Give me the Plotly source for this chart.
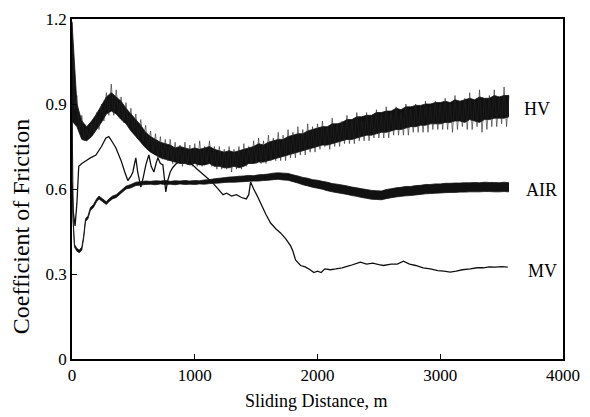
import plotly.graph_objects as go

# ---------------- data ----------------
# HV: solid core of the noisy trace (upper / lower edge) ...
hv_dist = [0, 40, 80, 120, 160, 200, 240, 280, 320, 360,
           400, 440, 480, 520, 560, 600, 640, 680, 720, 760,
           800, 840, 880, 920, 960, 1000, 1040, 1080, 1120, 1160,
           1200, 1240, 1280, 1320, 1360, 1400, 1440, 1480, 1520, 1560,
           1600, 1640, 1680, 1720, 1760, 1800, 1840, 1880, 1920, 1960,
           2000, 2040, 2080, 2120, 2160, 2200, 2240, 2280, 2320, 2360,
           2400, 2440, 2480, 2520, 2560, 2600, 2640, 2680, 2720, 2760,
           2800, 2840, 2880, 2920, 2960, 3000, 3040, 3080, 3120, 3160,
           3200, 3240, 3280, 3320, 3360, 3400, 3440, 3480, 3520, 3560]
hv_upper = [1.19, 0.90, 0.84, 0.82, 0.84, 0.865, 0.895, 0.925, 0.94, 0.925,
            0.91, 0.885, 0.865, 0.845, 0.825, 0.80, 0.785, 0.775, 0.765, 0.76,
            0.755, 0.745, 0.75, 0.745, 0.74, 0.745, 0.74, 0.745, 0.75, 0.74,
            0.735, 0.73, 0.735, 0.73, 0.735, 0.74, 0.745, 0.75, 0.76, 0.755,
            0.765, 0.77, 0.775, 0.775, 0.785, 0.79, 0.795, 0.795, 0.805, 0.81,
            0.815, 0.82, 0.82, 0.83, 0.83, 0.835, 0.845, 0.845, 0.855, 0.855,
            0.86, 0.86, 0.87, 0.87, 0.875, 0.875, 0.885, 0.88, 0.89, 0.89,
            0.895, 0.895, 0.90, 0.90, 0.905, 0.905, 0.91, 0.905, 0.915, 0.91,
            0.915, 0.92, 0.915, 0.925, 0.92, 0.92, 0.93, 0.925, 0.93, 0.93]
hv_lower = [0.84, 0.82, 0.775, 0.77, 0.785, 0.81, 0.835, 0.865, 0.875, 0.865,
            0.845, 0.83, 0.805, 0.785, 0.765, 0.745, 0.73, 0.72, 0.71, 0.705,
            0.70, 0.695, 0.69, 0.69, 0.685, 0.69, 0.685, 0.685, 0.69, 0.68,
            0.68, 0.675, 0.675, 0.68, 0.675, 0.68, 0.69, 0.69, 0.695, 0.695,
            0.70, 0.705, 0.71, 0.715, 0.72, 0.725, 0.73, 0.735, 0.74, 0.745,
            0.75, 0.755, 0.755, 0.76, 0.765, 0.77, 0.775, 0.775, 0.78, 0.785,
            0.79, 0.79, 0.795, 0.80, 0.80, 0.805, 0.81, 0.81, 0.815, 0.82,
            0.82, 0.825, 0.825, 0.83, 0.83, 0.83, 0.835, 0.835, 0.84, 0.84,
            0.835, 0.845, 0.84, 0.835, 0.845, 0.845, 0.85, 0.85, 0.85, 0.855]
# ... and its fine scatter (readings every 20 m)
hv_fine_dist = [0, 20, 40, 60, 80, 100, 120, 140, 160, 180,
                200, 220, 240, 260, 280, 300, 320, 340, 360, 380,
                400, 420, 440, 460, 480, 500, 520, 540, 560, 580,
                600, 620, 640, 660, 680, 700, 720, 740, 760, 780,
                800, 820, 840, 860, 880, 900, 920, 940, 960, 980,
                1000, 1020, 1040, 1060, 1080, 1100, 1120, 1140, 1160, 1180,
                1200, 1220, 1240, 1260, 1280, 1300, 1320, 1340, 1360, 1380,
                1400, 1420, 1440, 1460, 1480, 1500, 1520, 1540, 1560, 1580,
                1600, 1620, 1640, 1660, 1680, 1700, 1720, 1740, 1760, 1780,
                1800, 1820, 1840, 1860, 1880, 1900, 1920, 1940, 1960, 1980,
                2000, 2020, 2040, 2060, 2080, 2100, 2120, 2140, 2160, 2180,
                2200, 2220, 2240, 2260, 2280, 2300, 2320, 2340, 2360, 2380,
                2400, 2420, 2440, 2460, 2480, 2500, 2520, 2540, 2560, 2580,
                2600, 2620, 2640, 2660, 2680, 2700, 2720, 2740, 2760, 2780,
                2800, 2820, 2840, 2860, 2880, 2900, 2920, 2940, 2960, 2980,
                3000, 3020, 3040, 3060, 3080, 3100, 3120, 3140, 3160, 3180,
                3200, 3220, 3240, 3260, 3280, 3300, 3320, 3340, 3360, 3380,
                3400, 3420, 3440, 3460, 3480, 3500, 3520, 3540, 3560]
hv_fine = [1.19, 0.88, 0.93, 0.80, 0.86, 0.77, 0.81, 0.78, 0.83, 0.80,
           0.87, 0.81, 0.90, 0.84, 0.94, 0.86, 0.97, 0.86, 0.95, 0.86,
           0.925, 0.835, 0.905, 0.82, 0.885, 0.80, 0.865, 0.78, 0.845, 0.77,
           0.825, 0.74, 0.805, 0.73, 0.795, 0.71, 0.785, 0.705, 0.775, 0.70,
           0.775, 0.69, 0.765, 0.69, 0.755, 0.68, 0.765, 0.685, 0.755, 0.68,
           0.76, 0.68, 0.77, 0.68, 0.75, 0.69, 0.77, 0.68, 0.75, 0.67,
           0.75, 0.67, 0.74, 0.67, 0.75, 0.66, 0.74, 0.67, 0.75, 0.67,
           0.76, 0.68, 0.75, 0.69, 0.77, 0.69, 0.78, 0.69, 0.77, 0.69,
           0.79, 0.70, 0.78, 0.70, 0.80, 0.70, 0.79, 0.70, 0.81, 0.71,
           0.80, 0.71, 0.82, 0.72, 0.81, 0.72, 0.83, 0.73, 0.82, 0.73,
           0.83, 0.74, 0.84, 0.75, 0.82, 0.74, 0.85, 0.75, 0.83, 0.75,
           0.84, 0.76, 0.86, 0.76, 0.84, 0.76, 0.87, 0.77, 0.84, 0.77,
           0.87, 0.77, 0.86, 0.78, 0.88, 0.78, 0.86, 0.78, 0.89, 0.78,
           0.87, 0.79, 0.89, 0.79, 0.87, 0.79, 0.90, 0.79, 0.88, 0.80,
           0.90, 0.80, 0.89, 0.80, 0.91, 0.80, 0.89, 0.81, 0.91, 0.81,
           0.90, 0.81, 0.92, 0.81, 0.90, 0.80, 0.93, 0.81, 0.91, 0.82,
           0.92, 0.81, 0.94, 0.81, 0.91, 0.82, 0.95, 0.80, 0.92, 0.81,
           0.93, 0.82, 0.95, 0.82, 0.92, 0.83, 0.96, 0.82, 0.93]

# AIR: envelope of the trace
air_dist = [0, 8, 20, 40, 60, 80, 95, 110, 130, 150, 175, 200, 220, 250, 280,
            300, 330, 360, 400, 440, 480, 520, 560,
            600, 640, 680, 720, 760, 800, 840, 880, 920, 960,
            1000, 1040, 1080, 1120, 1160, 1200, 1240, 1280, 1320, 1360,
            1400, 1440, 1480, 1520, 1560, 1600, 1640, 1680, 1720, 1760,
            1800, 1840, 1880, 1920, 1960, 2000, 2040, 2080, 2120, 2160,
            2200, 2240, 2280, 2320, 2360, 2400, 2440, 2480, 2520, 2560,
            2600, 2640, 2680, 2720, 2760, 2800, 2840, 2880, 2920, 2960,
            3000, 3040, 3080, 3120, 3160, 3200, 3240, 3280, 3320, 3360,
            3400, 3440, 3480, 3520, 3560]
air_upper = [0.985, 0.505, 0.405, 0.39, 0.385, 0.395, 0.435, 0.495, 0.505, 0.535, 0.545, 0.565, 0.575, 0.565, 0.555,
             0.565, 0.575, 0.58, 0.595, 0.61, 0.616, 0.624, 0.626,
             0.628, 0.627, 0.629, 0.628, 0.630, 0.627, 0.629, 0.628, 0.630, 0.628,
             0.630, 0.629, 0.632, 0.633, 0.636, 0.638, 0.640, 0.642, 0.643, 0.645,
             0.646, 0.648, 0.647, 0.650, 0.651, 0.653, 0.656, 0.657, 0.656, 0.655,
             0.650, 0.646, 0.641, 0.638, 0.633, 0.631, 0.627, 0.624, 0.619, 0.617,
             0.614, 0.611, 0.607, 0.604, 0.601, 0.598, 0.595, 0.594, 0.593, 0.598,
             0.601, 0.604, 0.606, 0.609, 0.609, 0.612, 0.613, 0.616, 0.616, 0.618,
             0.618, 0.620, 0.620, 0.621, 0.621, 0.622, 0.622, 0.623, 0.622, 0.624,
             0.623, 0.623, 0.622, 0.624, 0.622]
air_lower = [0.975, 0.495, 0.395, 0.38, 0.375, 0.385, 0.425, 0.485, 0.495, 0.525, 0.535, 0.555, 0.565, 0.555, 0.545,
             0.555, 0.565, 0.57, 0.585, 0.60, 0.604, 0.612, 0.614,
             0.616, 0.617, 0.615, 0.618, 0.616, 0.617, 0.615, 0.618, 0.616, 0.617,
             0.616, 0.618, 0.617, 0.619, 0.620, 0.621, 0.623, 0.624, 0.624, 0.625,
             0.626, 0.627, 0.628, 0.628, 0.630, 0.631, 0.633, 0.634, 0.632, 0.631,
             0.626, 0.621, 0.615, 0.611, 0.606, 0.603, 0.599, 0.594, 0.590, 0.587,
             0.584, 0.581, 0.577, 0.574, 0.570, 0.567, 0.564, 0.563, 0.562, 0.566,
             0.569, 0.572, 0.574, 0.576, 0.577, 0.579, 0.581, 0.583, 0.584, 0.585,
             0.586, 0.587, 0.588, 0.588, 0.589, 0.589, 0.590, 0.590, 0.590, 0.591,
             0.591, 0.590, 0.590, 0.591, 0.590]

# MV: single trace
mv_dist = [0, 10, 25, 40, 55, 80, 114, 150, 195, 240, 276, 300, 330, 358, 400,
           430, 455, 480, 496, 510, 520, 535, 561, 580, 602, 626, 645, 667, 685,
           699, 720, 740, 752, 764, 780, 800, 821, 850, 886, 930, 984, 1020,
           1060, 1100, 1140, 1170, 1200, 1230, 1260, 1300, 1340, 1380, 1420,
           1440, 1455, 1480, 1510, 1537, 1580, 1618, 1660, 1699, 1740, 1780,
           1800, 1821, 1862, 1900, 1943, 1970, 2000, 2030, 2060, 2106, 2150,
           2200, 2268, 2325, 2350, 2400, 2450, 2500, 2537, 2600, 2650, 2700,
           2750, 2800, 2860, 2919, 2980, 3030, 3081, 3130, 3180, 3244, 3300,
           3350, 3400, 3450, 3500, 3550]
mv_cof = [0.62, 0.52, 0.47, 0.55, 0.68, 0.69, 0.70, 0.71, 0.72, 0.75, 0.78, 0.785, 0.765, 0.745, 0.70,
          0.66, 0.63, 0.645, 0.66, 0.69, 0.71, 0.66, 0.607, 0.64, 0.686, 0.72, 0.68, 0.66, 0.69,
          0.71, 0.69, 0.686, 0.64, 0.59, 0.63, 0.66, 0.676, 0.69, 0.70, 0.70, 0.685, 0.67,
          0.655, 0.64, 0.625, 0.61, 0.595, 0.58, 0.585, 0.575, 0.58, 0.57, 0.565,
          0.58, 0.625, 0.60, 0.575, 0.55, 0.51, 0.48, 0.46, 0.445, 0.425, 0.40,
          0.38, 0.35, 0.33, 0.325, 0.314, 0.305, 0.31, 0.305, 0.318, 0.315, 0.318,
          0.322, 0.33, 0.338, 0.342, 0.335, 0.338, 0.333, 0.33, 0.335, 0.335, 0.345,
          0.335, 0.33, 0.322, 0.318, 0.312, 0.31, 0.307, 0.31, 0.315, 0.318, 0.322,
          0.322, 0.325, 0.324, 0.326, 0.324]

series_labels = ["HV", "AIR", "MV"]
label_pos_x = [3662, 3686, 3702]
label_pos_y = [0.881, 0.597, 0.312]

x_title = "Sliding Distance, m"
y_title = "Coefficient of Friction"
x_tickvals = [0, 1000, 2000, 3000, 4000]
x_ticktext = ["0", "1000", "2000", "3000", "4000"]
y_tickvals = [0, 0.3, 0.6, 0.9, 1.2]
y_ticktext = ["0", "0.3", "0.6", "0.9", "1.2"]

# ---------------- figure ----------------
FONT = "Liberation Serif"
INK = "#111111"
fig = go.Figure()

# MV line
fig.add_trace(go.Scatter(x=mv_dist, y=mv_cof, mode="lines", name="MV",
                         line=dict(color=INK, width=1.3, simplify=False)))
# AIR band
fig.add_trace(go.Scatter(x=air_dist, y=air_lower, mode="lines", name="AIR",
                         line=dict(color=INK, width=0.8, simplify=False)))
fig.add_trace(go.Scatter(x=air_dist, y=air_upper, mode="lines", name="AIR",
                         fill="tonexty", fillcolor=INK,
                         line=dict(color=INK, width=0.8, simplify=False)))
# HV band + fine scatter
fig.add_trace(go.Scatter(x=hv_dist, y=hv_lower, mode="lines", name="HV",
                         line=dict(color=INK, width=0.8, simplify=False)))
fig.add_trace(go.Scatter(x=hv_dist, y=hv_upper, mode="lines", name="HV",
                         fill="tonexty", fillcolor=INK,
                         line=dict(color=INK, width=0.8, simplify=False)))
fig.add_trace(go.Scatter(x=hv_fine_dist, y=hv_fine, mode="lines", name="HV",
                         line=dict(color="#222222", width=0.6, simplify=False)))

for lab, lx, ly in zip(series_labels, label_pos_x, label_pos_y):
    fig.add_annotation(x=lx, y=ly, text=lab, showarrow=False, xanchor="left",
                       yanchor="middle", font=dict(family=FONT, size=18, color="black"))

# axis titles placed as in the original figure
fig.add_annotation(x=0.497, y=-0.123, xref="paper", yref="paper", text=x_title,
                   showarrow=False, xanchor="center", yanchor="middle",
                   font=dict(family=FONT, size=18, color="black"))
fig.add_annotation(x=-0.105, y=0.47, xref="paper", yref="y", text=y_title,
                   textangle=-90, showarrow=False, xanchor="center", yanchor="middle",
                   font=dict(family=FONT, size=24, color="black"))

axis_common = dict(showline=True, linecolor="black", linewidth=1.6, mirror=True,
                   ticks="inside", ticklen=5, tickwidth=1.2, tickcolor="black",
                   showgrid=False, zeroline=False,
                   tickfont=dict(family=FONT, size=17, color="black"))

fig.update_xaxes(range=[0, 4000], tickvals=x_tickvals, ticktext=x_ticktext,
                 **axis_common)
fig.update_yaxes(range=[0, 1.2], tickvals=y_tickvals, ticktext=y_ticktext,
                 **axis_common)

fig.update_layout(width=590, height=417, margin=dict(l=72, r=21, t=10, b=58),
                  paper_bgcolor="white", plot_bgcolor="white", showlegend=False)

# the page body's default 8px margin would shift the figure; remove it
fig.write_html("out.html", config={"displayModeBar": False},
               post_script="document.body.style.margin='0px';")
